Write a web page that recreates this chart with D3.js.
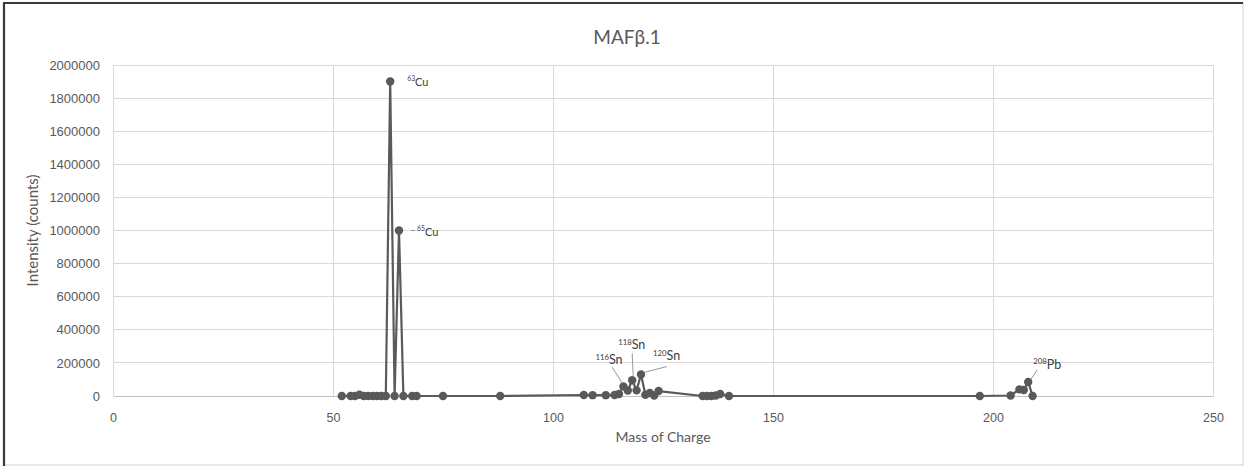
<!DOCTYPE html>
<html>
<head>
<meta charset="utf-8">
<script src="https://cdn.jsdelivr.net/npm/d3@7"></script>
<style>
  html, body { margin: 0; padding: 0; background: #fff; }
  svg { display: block; font-family: Lato, "Open Sans", sans-serif; }
</style>
</head>
<body>
<svg id="chart" width="1249" height="468"></svg>
<script>
// Measured isotope masses and their intensities (counts)
const masses = [52, 54, 55, 56, 57, 58, 59, 60, 61, 62, 63, 64, 65, 66, 68, 69, 75, 88,
  107, 109, 112, 114, 115, 116, 117, 118, 119, 120, 121, 122, 123, 124,
  134, 135, 136, 137, 138, 140, 197, 204, 206, 207, 208, 209];
const intensities = [0, 0, 0, 8000, 0, 0, 0, 0, 0, 0, 1900000, 0, 1000000, 0, 0, 0, 0, 0,
  6000, 5000, 5000, 6000, 12000, 58000, 33000, 95000, 34000, 130000, 8000, 18000, 3000, 30000,
  0, 0, 0, 3000, 12000, 0, 0, 3000, 40000, 36000, 85000, 0];

const xTicks = [0, 50, 100, 150, 200, 250];
const yTicks = [0, 200000, 400000, 600000, 800000, 1000000, 1200000, 1400000, 1600000, 1800000, 2000000];

// Isotope annotations: mass number, element symbol
const labelMasses = [63, 65, 116, 118, 120, 208];
const labelSymbols = ["Cu", "Cu", "Sn", "Sn", "Sn", "Pb"];

const data = masses.map((m, i) => ({ m, v: intensities[i] }));

const svg = d3.select("#chart");
const W = 1249, H = 468;
const margin = { left: 113, right: 36, top: 65, bottom: 72 };

// Sheet frame
svg.append("rect").attr("x", 4).attr("y", 3).attr("width", 1239).attr("height", 462)
  .attr("fill", "#fff").attr("stroke", "#d0d0d0").attr("stroke-width", 1);
svg.append("path").attr("d", "M4,466V3H1243").attr("fill", "none")
  .attr("stroke", "#3a3a3a").attr("stroke-width", 2.2);

const x = d3.scaleLinear().domain([0, 250]).range([margin.left, W - margin.right]);
const y = d3.scaleLinear().domain([0, 2000000]).range([H - margin.bottom, margin.top]);

// Gridlines
svg.append("g").selectAll("line").data(yTicks.slice(1)).join("line")
  .attr("x1", x(0)).attr("x2", x(250)).attr("y1", d => y(d)).attr("y2", d => y(d))
  .attr("stroke", "#d9d9d9").attr("stroke-width", 1).attr("shape-rendering", "crispEdges");
svg.append("g").selectAll("line").data(xTicks).join("line")
  .attr("x1", d => x(d)).attr("x2", d => x(d)).attr("y1", y(0)).attr("y2", y(2000000))
  .attr("stroke", "#d9d9d9").attr("stroke-width", 1).attr("shape-rendering", "crispEdges");

// Axes
const xAxis = svg.append("g").attr("transform", `translate(0,${y(0)})`)
  .call(d3.axisBottom(x).tickValues(xTicks).tickSize(0).tickPadding(17).tickFormat(d3.format("d")));
xAxis.select(".domain").attr("stroke", "#bfbfbf").attr("stroke-width", 1.2);
xAxis.selectAll("text").attr("fill", "#595959").style("font-size", "12.5px");

const yAxis = svg.append("g").attr("transform", `translate(${x(0)},0)`)
  .call(d3.axisLeft(y).tickValues(yTicks).tickSize(0).tickPadding(13).tickFormat(d3.format("d")));
yAxis.select(".domain").remove();
yAxis.selectAll("text").attr("fill", "#595959").style("font-size", "13px");

// Series line and markers
const line = d3.line().x(d => x(d.m)).y(d => y(d.v));
svg.append("path").datum(data).attr("d", line).attr("fill", "none")
  .attr("stroke", "#5a5a5a").attr("stroke-width", 2.2).attr("stroke-linejoin", "round");
svg.append("g").selectAll("circle").data(data).join("circle")
  .attr("cx", d => x(d.m)).attr("cy", d => y(d.v)).attr("r", 4.2).attr("fill", "#595959");

// Isotope labels
const labelCfg = {
  63:  { dx: 17, dy: 4, size: 11, lead: null },
  65:  { dx: 18, dy: 5, size: 11, lead: [[12, 0], [16, 0]] },
  116: { dx: -28, dy: -22, size: 12.5, lead: [[-11, -19], [-1, -3]] },
  118: { dx: -14, dy: -31, size: 12.5, lead: [[0, -27], [1, -4]] },
  120: { dx: 12, dy: -14, size: 12.5, lead: [[26, -8], [3, -2]] },
  208: { dx: 5, dy: -13, size: 12.5, lead: [[9, -12], [3, -3]] }
};
const labels = labelMasses.map((m, i) => ({ m, el: labelSymbols[i], v: intensities[masses.indexOf(m)] }));
const lg = svg.append("g");
labels.forEach(d => {
  const c = labelCfg[d.m];
  const px = x(d.m), py = y(d.v);
  if (c.lead) {
    lg.append("line").attr("x1", px + c.lead[0][0]).attr("y1", py + c.lead[0][1])
      .attr("x2", px + c.lead[1][0]).attr("y2", py + c.lead[1][1])
      .attr("stroke", "#8c8c8c").attr("stroke-width", 0.9);
  }
  const t = lg.append("text").attr("x", px + c.dx).attr("y", py + c.dy)
    .attr("fill", "#404040").style("font-size", c.size + "px");
  t.append("tspan").text(d.m).style("font-size", (c.size * 0.62) + "px").attr("dy", -c.size * 0.38);
  t.append("tspan").text(d.el).attr("dy", c.size * 0.38);
});

// Title and axis titles
svg.append("text").attr("x", 627).attr("y", 44).attr("text-anchor", "middle")
  .attr("fill", "#595959").style("font-size", "19px").text("MAFβ.1");
svg.append("text").attr("x", x(125)).attr("y", 442).attr("text-anchor", "middle")
  .attr("fill", "#595959").style("font-size", "14px").text("Mass of Charge");
svg.append("text").attr("transform", `translate(38,${(y(0) + y(2000000)) / 2}) rotate(-90)`)
  .attr("text-anchor", "middle").attr("fill", "#595959").style("font-size", "15px")
  .text("Intensity (counts)");
</script>
</body>
</html>
